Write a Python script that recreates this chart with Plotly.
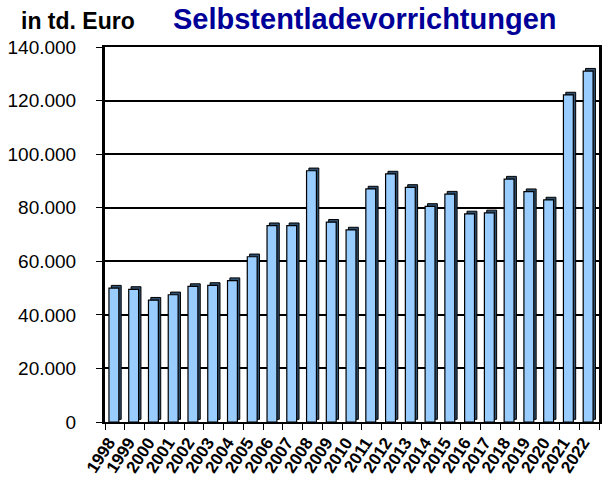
import plotly.graph_objects as go

years = [str(y) for y in range(1998, 2023)]
values = [50000, 49500, 45500, 47500, 50600, 51000, 52800, 61700, 73300, 73300,
          93800, 74600, 71700, 87000, 92600, 87600, 80500, 85100, 77700, 78100,
          90700, 86000, 82900, 122100, 131000]
y_ticks = [0, 20000, 40000, 60000, 80000, 100000, 120000, 140000]

L, R, T, B = 105, 10, 47, 60
W, H = 609, 482
pw, ph = W - L - R, H - T - B

fig = go.Figure()
# depth (side) of the 3D bars
fig.add_trace(go.Bar(x=years, y=values, base=[1000] * len(values), width=0.5, offset=-0.18,
                     marker=dict(color="#2F4F6F", line=dict(color="#000000", width=1)),
                     hoverinfo="skip", showlegend=False))
# front face
fig.add_trace(go.Bar(x=years, y=values, width=0.5, offset=-0.3,
                     marker=dict(color="#99CCFF", line=dict(color="#000000", width=1.2)),
                     showlegend=False))

fig.update_layout(
    width=W, height=H,
    margin=dict(l=L, r=R, t=T, b=B, autoexpand=False),
    paper_bgcolor="white", plot_bgcolor="white",
    separators=",.",
    barmode="overlay",
    font=dict(family="Arial, Liberation Sans, sans-serif", color="black"),
    annotations=[
        dict(text="<b>Selbstentladevorrichtungen</b>", x=(365 - L) / pw, y=1 + (T - 1) / ph,
             xref="paper", yref="paper",
             xanchor="center", yanchor="top", showarrow=False,
             font=dict(size=29, color="#000099", family="Arial, Liberation Sans, sans-serif")),
        dict(text="<b>in td. Euro</b>", x=(19 - L) / pw, y=1 + (T - 6) / ph,
             xref="paper", yref="paper",
             xanchor="left", yanchor="top", showarrow=False,
             font=dict(size=23, color="black", family="Arial, Liberation Sans, sans-serif")),
    ],
)
fig.update_yaxes(range=[0, 140000], tickvals=y_ticks, tickformat=",d", automargin=False,
                 showgrid=True, gridcolor="black", gridwidth=1.5,
                 showline=True, linecolor="black", linewidth=3, mirror=True,
                 ticks="outside", ticklen=6, tickcolor="black", tickwidth=1,
                 ticklabelstandoff=16,
                 tickfont=dict(size=19), zeroline=False)
fig.update_xaxes(tickangle=-57, automargin=False, tickmode="linear", dtick=1,
                 tickfont=dict(size=17, weight="bold", family="Arial, Liberation Sans, sans-serif"),
                 ticklabelshift=-6, ticklabelstandoff=2,
                 showline=True, linecolor="black", linewidth=2, mirror=True,
                 ticks="outside", ticklen=6, tickcolor="black", tickson="boundaries",
                 showgrid=False, range=[-0.5, 24.5])
fig.write_html("out.html", config={"displayModeBar": False},
               post_script="document.body.style.margin='0px';")
